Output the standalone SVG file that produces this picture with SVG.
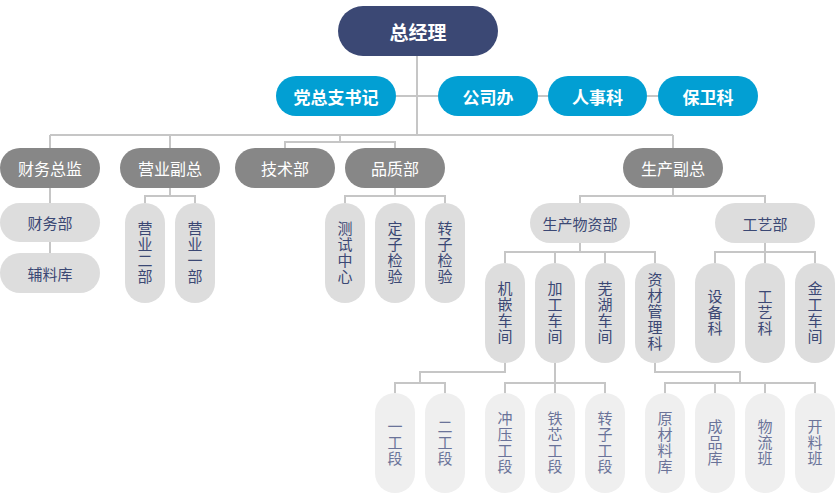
<svg xmlns="http://www.w3.org/2000/svg" width="835" height="500" viewBox="0 0 835 500">
<style>
text{font-family:"Noto Sans CJK SC","Noto Sans",sans-serif;text-anchor:middle;dominant-baseline:central}
.v{writing-mode:vertical-rl;letter-spacing:1px}
.ln{fill:none;stroke:#c6c6c6;stroke-width:2}
.top{fill:#3b4874}
.blue{fill:#029fd3}
.gray{fill:#878787}
.lg{fill:#dddddd}
.xl{fill:#efefef}
.t1{fill:#fff;font-size:19px;font-weight:bold}
.t2{fill:#fff;font-size:17px;font-weight:bold}
.t3{fill:#fff;font-size:16px}
.t4{fill:#3b4874;font-size:15px}
.t5{fill:#6a7399;font-size:15px}
</style>
<g id="connectors">
<path class="ln" d="M417 56V135M396 96H438M538 96H548M647 96H658M50 135H673M50 135V148M170 135V148M340 135V142M285 148V142H395V148M673 135V148"/>
<path class="ln" d="M50 188V203M50 242V253M170 188V196M145 203V196H195V203M395 188V196M345 203V196H445V203M673 188V196M580 203V196H765V203"/>
<path class="ln" d="M580 243V252M505 263V252H655V263M555 252V263M605 252V263M765 243V252M715 263V252H815V263M765 252V263"/>
<path class="ln" d="M505 363V372H420V383M395 393V383H445V393M555 363V393M505 393V383H605V393M655 363V372H740V383M665 393V383H815V393M715 383V393M765 383V393"/>
</g>
<g id="n-zjl"><rect class="top" x="338" y="6" width="160" height="50" rx="25"/><text class="t1" x="418" y="31">总经理</text></g>
<g id="n-dzz"><rect class="blue" x="276" y="76" width="120" height="40" rx="20"/><text class="t2" x="336" y="96">党总支书记</text></g>
<g id="n-gsb"><rect class="blue" x="438" y="76" width="100" height="40" rx="20"/><text class="t2" x="488" y="96">公司办</text></g>
<g id="n-rsk"><rect class="blue" x="548" y="76" width="99" height="40" rx="20"/><text class="t2" x="597.5" y="96">人事科</text></g>
<g id="n-bwk"><rect class="blue" x="658" y="76" width="100" height="40" rx="20"/><text class="t2" x="708" y="96">保卫科</text></g>
<g id="n-cwzj"><rect class="gray" x="0" y="148" width="100" height="40" rx="20"/><text class="t3" x="50" y="168">财务总监</text></g>
<g id="n-yyfz"><rect class="gray" x="120" y="148" width="100" height="40" rx="20"/><text class="t3" x="170" y="168">营业副总</text></g>
<g id="n-jsb"><rect class="gray" x="235" y="148" width="100" height="40" rx="20"/><text class="t3" x="285" y="168">技术部</text></g>
<g id="n-pzb"><rect class="gray" x="345" y="148" width="100" height="40" rx="20"/><text class="t3" x="395" y="168">品质部</text></g>
<g id="n-scfz"><rect class="gray" x="623" y="148" width="100" height="40" rx="20"/><text class="t3" x="673" y="168">生产副总</text></g>
<g id="n-cwb"><rect class="lg" x="0" y="203" width="100" height="39" rx="19.5"/><text class="t4" x="50" y="222.5">财务部</text></g>
<g id="n-flk"><rect class="lg" x="0" y="253" width="100" height="40" rx="20"/><text class="t4" x="50" y="273">辅料库</text></g>
<g id="n-yy2"><rect class="lg" x="125" y="203" width="40" height="100" rx="20"/><text class="t4 v" x="145" y="253">营业二部</text></g>
<g id="n-yy1"><rect class="lg" x="175" y="203" width="40" height="100" rx="20"/><text class="t4 v" x="195" y="253">营业一部</text></g>
<g id="n-cszx"><rect class="lg" x="325" y="203" width="40" height="100" rx="20"/><text class="t4 v" x="345" y="253">测试中心</text></g>
<g id="n-dzjy"><rect class="lg" x="375" y="203" width="40" height="100" rx="20"/><text class="t4 v" x="395" y="253">定子检验</text></g>
<g id="n-zzjy"><rect class="lg" x="425" y="203" width="40" height="100" rx="20"/><text class="t4 v" x="445" y="253">转子检验</text></g>
<g id="n-scwzb"><rect class="lg" x="530" y="203" width="100" height="40" rx="20"/><text class="t4" x="580" y="223">生产物资部</text></g>
<g id="n-gyb"><rect class="lg" x="715" y="203" width="100" height="40" rx="20"/><text class="t4" x="765" y="223">工艺部</text></g>
<g id="n-jqcj"><rect class="lg" x="485" y="263" width="40" height="100" rx="20"/><text class="t4 v" x="505" y="313">机嵌车间</text></g>
<g id="n-jgcj"><rect class="lg" x="535" y="263" width="40" height="100" rx="20"/><text class="t4 v" x="555" y="313">加工车间</text></g>
<g id="n-whcj"><rect class="lg" x="585" y="263" width="40" height="100" rx="20"/><text class="t4 v" x="605" y="313">芜湖车间</text></g>
<g id="n-zcglk"><rect class="lg" x="635" y="263" width="40" height="100" rx="20"/><text class="t4 v" x="655" y="312">资材管理科</text></g>
<g id="n-sbk"><rect class="lg" x="695" y="263" width="40" height="100" rx="20"/><text class="t4 v" x="715" y="313">设备科</text></g>
<g id="n-gyk"><rect class="lg" x="745" y="263" width="40" height="100" rx="20"/><text class="t4 v" x="765" y="313">工艺科</text></g>
<g id="n-jgcj2"><rect class="lg" x="795" y="263" width="40" height="100" rx="20"/><text class="t4 v" x="815" y="313">金工车间</text></g>
<g id="n-ygd"><rect class="xl" x="375" y="393" width="40" height="100" rx="20"/><text class="t5 v" x="395" y="443">一工段</text></g>
<g id="n-egd"><rect class="xl" x="425" y="393" width="40" height="100" rx="20"/><text class="t5 v" x="445" y="443">二工段</text></g>
<g id="n-cygd"><rect class="xl" x="485" y="393" width="40" height="100" rx="20"/><text class="t5 v" x="505" y="443">冲压工段</text></g>
<g id="n-txgd"><rect class="xl" x="535" y="393" width="40" height="100" rx="20"/><text class="t5 v" x="555" y="443">铁芯工段</text></g>
<g id="n-zzgd"><rect class="xl" x="585" y="393" width="40" height="100" rx="20"/><text class="t5 v" x="605" y="443">转子工段</text></g>
<g id="n-yclk"><rect class="xl" x="645" y="393" width="40" height="100" rx="20"/><text class="t5 v" x="665" y="443">原材料库</text></g>
<g id="n-cpk"><rect class="xl" x="695" y="393" width="40" height="100" rx="20"/><text class="t5 v" x="715" y="443">成品库</text></g>
<g id="n-wlb"><rect class="xl" x="745" y="393" width="40" height="100" rx="20"/><text class="t5 v" x="765" y="443">物流班</text></g>
<g id="n-klb"><rect class="xl" x="795" y="393" width="40" height="100" rx="20"/><text class="t5 v" x="815" y="443">开料班</text></g>
</svg>
